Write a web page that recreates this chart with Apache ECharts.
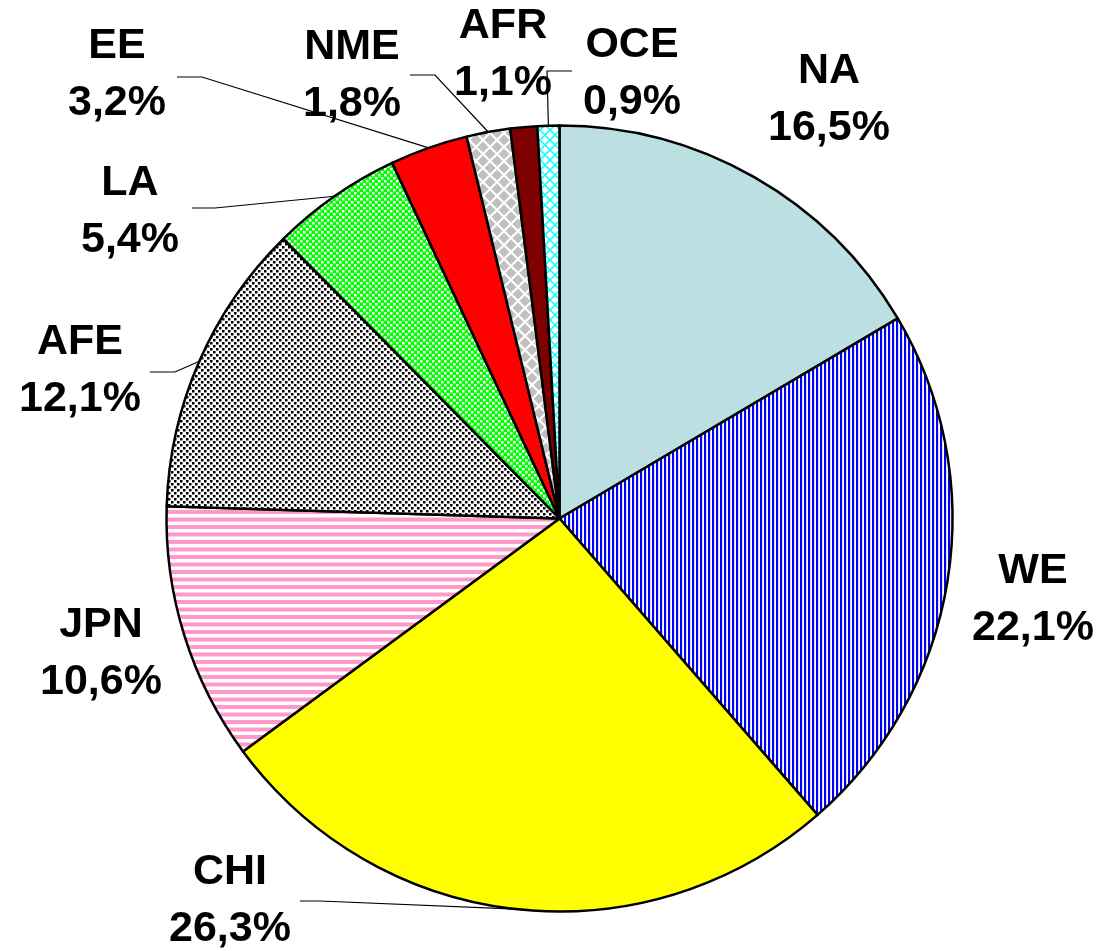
<!DOCTYPE html>
<html>
<head>
<meta charset="utf-8">
<script src="https://cdn.jsdelivr.net/npm/echarts@6/dist/echarts.min.js"></script>
<style>
  html, body { margin: 0; padding: 0; background: #fff; }
  #chart { width: 1105px; height: 951px; }
</style>
</head>
<body>
<div id="chart"></div>
<script>
// regions, clockwise from 12 o'clock
var regions = ['NA', 'WE', 'CHI', 'JPN', 'AFE', 'LA', 'EE', 'NME', 'AFR', 'OCE'];
var shares = [16.5, 22.1, 26.3, 10.6, 12.1, 5.4, 3.2, 1.8, 1.1, 0.9];

// pattern helpers (excel-like fills)
function makeCanvas(w, h, bg) {
    var c = document.createElement('canvas');
    c.width = w; c.height = h;
    var ctx = c.getContext('2d');
    ctx.fillStyle = bg;
    ctx.fillRect(0, 0, w, h);
    return c;
}
function vStripes() {
    var c = makeCanvas(4, 4, '#ffffff');
    var ctx = c.getContext('2d');
    ctx.fillStyle = '#0000ff';
    ctx.fillRect(0, 0, 2, 4);
    ctx.fillStyle = '#c8c8ff';
    ctx.fillRect(2, 0, 0.6, 4);
    return c;
}
function hStripes() {
    var c = makeCanvas(8, 15, '#ffffff');
    var ctx = c.getContext('2d');
    ctx.fillStyle = '#ff99cc';
    ctx.fillRect(0, 0, 8, 4);
    ctx.fillRect(0, 7.5, 8, 4);
    return c;
}
function dots(bg, fg) {
    var c = makeCanvas(6, 6, bg);
    var ctx = c.getContext('2d');
    ctx.fillStyle = fg;
    ctx.fillRect(0, 0, 2.5, 2.5);
    ctx.fillRect(3, 3, 2.5, 2.5);
    return c;
}
function diamonds() {
    var c = makeCanvas(14, 14, '#ffffff');
    var ctx = c.getContext('2d');
    ctx.fillStyle = '#c0c0c0';
    var pts = [[7, 7], [0, 0], [14, 0], [0, 14], [14, 14]];
    pts.forEach(function (p) {
        ctx.beginPath();
        ctx.moveTo(p[0], p[1] - 5.5);
        ctx.lineTo(p[0] + 5.5, p[1]);
        ctx.lineTo(p[0], p[1] + 5.5);
        ctx.lineTo(p[0] - 5.5, p[1]);
        ctx.closePath();
        ctx.fill();
    });
    return c;
}
function lattice() {
    var c = makeCanvas(10, 10, '#ffffff');
    var ctx = c.getContext('2d');
    ctx.strokeStyle = '#00ffff';
    ctx.lineWidth = 1.5;
    ctx.beginPath();
    ctx.moveTo(0, 0); ctx.lineTo(10, 10);
    ctx.moveTo(10, 0); ctx.lineTo(0, 10);
    ctx.stroke();
    return c;
}
function pat(c) { return { image: c, repeat: 'repeat' }; }

var fills = {
    NA: '#bcdfe2',
    WE: pat(vStripes()),
    CHI: '#ffff00',
    JPN: pat(hStripes()),
    AFE: pat(dots('#ffffff', '#000000')),
    LA: pat(dots('#00ff00', '#ffffff')),
    EE: '#ff0000',
    NME: pat(diamonds()),
    AFR: '#7f0000',
    OCE: pat(lattice())
};

// label block centres and leader line ends (screen px)
var labelPos = {
    NA:  { x: 829, y: 100 },
    WE:  { x: 1033, y: 600 },
    CHI: { x: 230, y: 901, line: [[320, 901], [300, 901]] },
    JPN: { x: 101, y: 654 },
    AFE: { x: 80, y: 371, line: [[175, 372], [150, 372]] },
    LA:  { x: 130, y: 212, line: [[215, 208], [192, 208]] },
    EE:  { x: 117, y: 75, line: [[202, 77], [177, 77]] },
    NME: { x: 352, y: 76, line: [[435, 75], [410, 75]] },
    AFR: { x: 503, y: 55 },
    OCE: { x: 632, y: 74, line: [[547, 71], [572, 71]] }
};

var pieData = regions.map(function (r, i) {
    return {
        name: r,
        value: shares[i],
        itemStyle: { color: fills[r] },
        labelLine: { show: !!labelPos[r].line }
    };
});

var myChart = echarts.init(document.getElementById('chart'));
var option = {
    animation: false,
    backgroundColor: '#ffffff',
    series: [
        {
            type: 'pie',
            center: [559.5, 518.5],
            radius: 393,
            startAngle: 90,
            clockwise: true,
            avoidLabelOverlap: false,
            itemStyle: { borderColor: '#000000', borderWidth: 2.5 },
            label: {
                show: true,
                position: 'outside',
                formatter: function (p) {
                    return p.name + '\n' + p.value.toFixed(1).replace('.', ',') + '%';
                },
                fontFamily: 'Liberation Sans, Arial, sans-serif',
                fontWeight: 'bold',
                fontSize: 43,
                lineHeight: 57,
                color: '#000000',
                align: 'center'
            },
            labelLine: {
                length: 10,
                length2: 10,
                lineStyle: { color: '#000000', width: 1.2 }
            },
            labelLayout: function (params) {
                var pos = labelPos[regions[params.dataIndex]];
                var out = { x: pos.x, y: pos.y, align: 'center', verticalAlign: 'middle' };
                if (pos.line && params.labelLinePoints) {
                    out.labelLinePoints = [params.labelLinePoints[0], pos.line[0], pos.line[1]];
                }
                return out;
            },
            data: pieData
        }
    ]
};
myChart.setOption(option);
</script>
</body>
</html>
